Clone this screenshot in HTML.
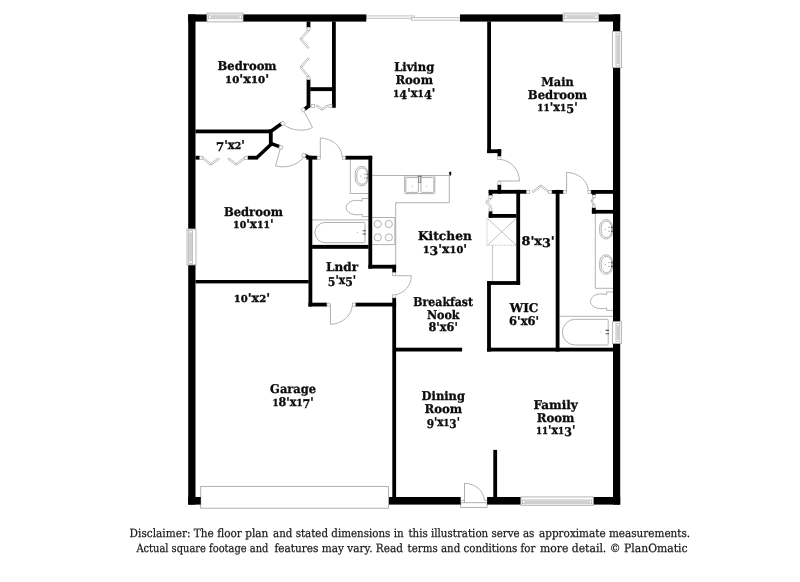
<!DOCTYPE html>
<html lang="en">
<head>
<meta charset="utf-8">
<title>Floor plan</title>
<style>
html,body{margin:0;padding:0;background:#fff;}
body{width:800px;height:582px;overflow:hidden;}
svg{display:block;will-change:transform;text-rendering:geometricPrecision;}
.walls{fill:#000;}
.thin{fill:none;stroke:#a4a4a4;stroke-width:0.85;}
.thin .j{fill:#fff;stroke:#a8a8a8;stroke-width:0.7;}
.thin .bf{fill:#fff;stroke:#989898;stroke-width:0.65;}
.thin .w{fill:#fff;stroke:#a8a8a8;stroke-width:0.9;}
.thin .n{fill:none;}
.thin .sl{fill:#f6f6f6;stroke:#b2b2b2;stroke-width:0.7;}
.thin .lt{stroke:#b4b4b4;stroke-width:0.8;}
.thin .dk{stroke:#555;stroke-width:1.1;}
.thin .dk2{stroke:#777;stroke-width:0.8;}
.thin .dot{fill:#999;stroke:none;}
.thin .dash{stroke:#aaa;stroke-dasharray:1 1.2;}
.wins .w{fill:#fff;stroke:#b0b0b0;stroke-width:0.9;}
.wins .s{fill:#fff;stroke:#a6a6a6;stroke-width:0.7;}
.wins .g{fill:#d0d0d0;stroke:none;}
.lab text{font-family:"DejaVu Serif","Liberation Serif",serif;font-weight:bold;font-size:12px;fill:#0c0c0c;stroke:#0c0c0c;stroke-width:0.3px;text-anchor:middle;}
.lab .o{font-size:9.5px;stroke:#0c0c0c;stroke-width:0.35px;}
.disc text{font-family:"DejaVu Serif","Liberation Serif",serif;font-size:11.4px;fill:#1a1a1a;stroke:#1a1a1a;stroke-width:0.25px;}
</style>
</head>
<body>
<svg width="800" height="582" viewBox="0 0 800 582">
<rect width="800" height="582" fill="#fff"/>
<g class="thin">
<rect class="sl" x="366.6" y="15.9" width="47.8" height="2.6"/>
<rect class="sl" x="411.6" y="17.5" width="48.6" height="2.7"/>
<rect class="w" x="200.7" y="486.4" width="187.8" height="21.8"/>
<polygon class="bf" points="307.9,29.7 300.2,38.6 301.4,39.6 309.1,30.7"/>
<polygon class="bf" points="300.2,39.6 307.9,48.5 309.1,47.5 301.4,38.6"/>
<polygon class="bf" points="307.9,57.8 300.2,66.8 301.4,67.8 309.1,58.8"/>
<polygon class="bf" points="300.2,67.8 307.9,77.3 309.1,76.3 301.4,66.8"/>
<polygon class="bf" points="316.0,106.3 321.7,110.2 322.7,108.8 317.0,104.9"/>
<polygon class="bf" points="322.7,110.1 328.1,106.2 327.1,105.0 321.7,108.9"/>
<polygon class="bf" points="202.3,158.5 210.2,165.1 211.2,163.9 203.3,157.3"/>
<polygon class="bf" points="211.2,165.1 219.4,159.2 218.4,158.0 210.2,163.9"/>
<polygon class="bf" points="227.8,159.2 235.9,165.1 236.9,163.9 228.8,158.0"/>
<polygon class="bf" points="236.9,165.1 245.3,158.5 244.3,157.3 235.9,163.9"/>
<polygon class="bf" points="490.0,197.8 486.0,201.5 487.0,202.7 491.0,199.0"/>
<polygon class="bf" points="485.9,202.7 490.0,206.8 491.2,205.6 487.1,201.5"/>
<polygon class="bf" points="533.2,192.6 541.4,186.3 540.4,185.1 532.2,191.4"/>
<polygon class="bf" points="540.4,186.3 548.5,192.6 549.5,191.4 541.4,185.1"/>
<polygon class="bf" points="593.3,197.3 591.0,200.6 592.0,201.2 594.3,197.9"/>
<polygon class="bf" points="591.0,201.2 593.4,204.9 594.4,204.3 592.0,200.6"/>
<path d="M303.6 110.6L312.5 127.4C307 131.5 291 131.5 283.4 124.2"/>
<path d="M280.4 148.4L275.5 165.8C284 168.6 298 166 304 156.4"/>
<path d="M320.3 157.8V137.9C332 138.6 341.4 146 342.2 156.4"/>
<path d="M497.8 181H519.4C519.6 170.6 511.6 160.4 500.4 159.4"/>
<path d="M566.6 191.9V172.3C578 172.8 587.4 180 588.4 190.6"/>
<path d="M393.6 275.7H411.4C411.4 285 404 293.6 395.2 294.8"/>
<path d="M330.5 304.6V324.3C342 324 351.4 316 352.2 306"/>
<rect class="w" x="460.7" y="502.7" width="26.4" height="4.7"/>
<path d="M461.5 500.4H464.5 M484.4 500.4H487"/>
<path d="M464.5 502.7V483.2C475.4 483.6 483.6 490.6 484.4 500.4"/>
<path d="M350.3 159.5V193.5H368.5"/>
<rect class="n" x="355.2" y="166.3" width="12.8" height="19.6" rx="6.4" ry="7.2"/>
<rect class="n" x="356.8" y="167.9" width="10.3" height="16.4" rx="5.1" ry="6.2"/>
<path d="M366.6 174.2H368.4 M366.6 178.0H368.4" class="dk"/>
<path d="M364.0 174.2H365.4 M364.0 178.0H365.4" class="dk2"/>
<circle class="dot" cx="360.8" cy="176.0" r="0.6"/>
<path d="M368.5 198.5H362.2V201.0C352 198.6 346.2 203 346.2 207.6C346.2 212.2 352 216.4 362.2 214.2V216.6H368.5"/>
<path d="M312.2 219.9H368.5"/>
<path d="M325 222.5H364Q365 222.5 365 223.5V241.7Q365 242.7 364 242.7H325A10.1 10.1 0 0 1 325 222.5Z"/>
<path d="M362.6 230.8H366 M362.6 234.0H366" class="dk"/>
<circle class="dot" cx="357.4" cy="232.4" r="0.5"/>
<path d="M372.1 175.5H449.3 M449.3 172.6V202.7H395.7V264.9"/>
<rect class="n" x="404.6" y="175.8" width="30.2" height="17.8" rx="1"/>
<rect class="n" x="405.9" y="177.6" width="12.5" height="14.8" rx="1"/>
<rect class="n" x="421.0" y="177.6" width="12.8" height="14.8" rx="1"/>
<path d="M418.7 176H420.7V182.5H418.7Z M417.4 176.6H422" class="dk2"/>
<circle class="dot" cx="412.4" cy="186.3" r="0.5"/>
<circle class="dot" cx="426.6" cy="186.3" r="0.5"/>
<path d="M372.1 217.5H394.9V244.6H372.1"/>
<circle class="n" cx="377.8" cy="224.0" r="3.6"/>
<circle class="n" cx="377.8" cy="237.4" r="3.6"/>
<circle class="n" cx="388.8" cy="224.0" r="3.6"/>
<circle class="n" cx="388.8" cy="237.4" r="3.6"/>
<path d="M487.0 218.4V245.3H516.4" class="dash"/>
<path d="M487.6 218.6L516 245 M516 218.6L487.6 245" class="lt"/>
<path d="M492.6 245.3V281.2" class="lt"/>
<path d="M595.3 213.6V288.3H613"/>
<rect class="n" x="599.7" y="219.6" width="12.8" height="19.4" rx="6.4" ry="7.2"/>
<rect class="n" x="601.3" y="221.2" width="10.3" height="16.2" rx="5.1" ry="6.2"/>
<path d="M611.0 227.4H612.9 M611.0 231.2H612.9" class="dk"/>
<path d="M608.4 227.4H609.8 M608.4 231.2H609.8" class="dk2"/>
<circle class="dot" cx="605.3" cy="229.3" r="0.6"/>
<rect class="n" x="599.7" y="254.8" width="12.8" height="19.4" rx="6.4" ry="7.2"/>
<rect class="n" x="601.3" y="256.4" width="10.3" height="16.2" rx="5.1" ry="6.2"/>
<path d="M611.0 262.6H612.9 M611.0 266.4H612.9" class="dk"/>
<path d="M608.4 262.6H609.8 M608.4 266.4H609.8" class="dk2"/>
<circle class="dot" cx="605.3" cy="264.5" r="0.6"/>
<path d="M613 292.0H606.6V294.6C596.4 292.2 590.5 296.6 590.5 301.3C590.5 306 596.4 310.2 606.6 308.0V310.4H613"/>
<path d="M559.4 316.3H613"/>
<path d="M575.2 319.3H607.2Q608.2 319.3 608.2 320.3V344Q608.2 345 607.2 345H575.2A12.85 12.85 0 0 1 575.2 319.3Z"/>
<path d="M605.6 330.4H609 M605.6 333.8H609" class="dk"/>
<circle class="dot" cx="601" cy="332" r="0.5"/>
</g>
<g class="walls">
<rect x="188.2" y="14.4" width="7.3" height="490.2"/>
<rect x="188.2" y="14.4" width="178.1" height="7.2"/>
<rect x="460.0" y="14.4" width="160.2" height="7.2"/>
<rect x="613.0" y="14.4" width="7.2" height="490.2"/>
<rect x="188.2" y="497.0" width="12.6" height="7.6"/>
<rect x="389.0" y="497.0" width="71.7" height="7.6"/>
<rect x="487.1" y="497.0" width="33.9" height="7.6"/>
<rect x="593.0" y="497.0" width="27.2" height="7.6"/>
<rect x="332.0" y="21.5" width="3.8" height="86.3"/>
<rect x="306.6" y="21.5" width="3.8" height="6.0"/>
<rect x="306.6" y="79.5" width="3.8" height="28.2"/>
<rect x="310.2" y="87.2" width="22.0" height="3.9"/>
<polygon points="307.5,104.6 303.1,108.2 305.3,111.0 309.7,107.4"/>
<rect x="195.5" y="129.5" width="75.6" height="3.8"/>
<polygon points="271.2,133.3 283.2,124.8 281.2,121.8 269.2,130.3"/>
<rect x="268.9" y="129.5" width="3.8" height="16.2"/>
<polygon points="270.0,145.1 279.6,148.6 280.8,145.2 271.2,141.7"/>
<polygon points="270.4,142.5 255.0,156.9 257.4,159.5 272.8,145.1"/>
<rect x="247.6" y="155.8" width="10.1" height="3.8"/>
<rect x="195.5" y="155.8" width="4.4" height="3.8"/>
<rect x="308.5" y="155.8" width="3.8" height="150.7"/>
<rect x="306.4" y="155.8" width="10.9" height="3.8"/>
<polygon points="303.5,156.6 308.6,159.4 310.4,156.2 305.3,153.4"/>
<rect x="345.2" y="155.8" width="27.0" height="3.8"/>
<rect x="368.4" y="155.8" width="3.8" height="112.8"/>
<rect x="368.4" y="264.8" width="27.7" height="3.8"/>
<rect x="392.3" y="264.8" width="3.8" height="7.9"/>
<rect x="312.1" y="244.9" width="56.5" height="3.9"/>
<rect x="195.5" y="280.0" width="113.2" height="3.4"/>
<rect x="308.5" y="302.7" width="18.5" height="3.8"/>
<rect x="355.3" y="302.7" width="40.8" height="3.8"/>
<rect x="392.3" y="297.8" width="3.8" height="199.3"/>
<rect x="395.9" y="347.7" width="66.2" height="3.8"/>
<rect x="487.2" y="21.5" width="3.8" height="131.6"/>
<rect x="487.2" y="149.3" width="14.0" height="3.8"/>
<rect x="497.5" y="149.3" width="3.7" height="7.3"/>
<rect x="497.5" y="184.7" width="3.7" height="9.0"/>
<rect x="488.7" y="189.9" width="37.9" height="3.8"/>
<rect x="488.7" y="189.9" width="3.7" height="5.9"/>
<rect x="488.7" y="211.3" width="3.7" height="6.5"/>
<rect x="488.7" y="214.0" width="27.8" height="3.8"/>
<rect x="516.3" y="189.9" width="3.8" height="95.0"/>
<rect x="487.1" y="281.1" width="33.0" height="3.8"/>
<rect x="487.1" y="281.1" width="3.8" height="70.4"/>
<rect x="487.1" y="347.7" width="126.0" height="3.8"/>
<rect x="555.7" y="189.9" width="3.8" height="161.6"/>
<rect x="551.6" y="190.0" width="11.8" height="3.8"/>
<rect x="590.9" y="190.0" width="22.2" height="3.8"/>
<rect x="591.9" y="190.0" width="3.8" height="5.1"/>
<rect x="591.9" y="207.6" width="3.8" height="6.0"/>
<rect x="591.9" y="209.9" width="21.2" height="3.7"/>
<rect x="493.3" y="449.9" width="3.8" height="47.2"/>
<path d="M449 172.2l2.2 -0.6v2.8l-1.2 1.8z"/>
</g>
<g class="thin">
<rect class="j" x="307.0" y="27.3" width="3.0" height="3.0"/>
<rect class="j" x="307.0" y="76.7" width="3.0" height="3.0"/>
<rect class="j" x="311.7" y="104.5" width="3.0" height="3.0"/>
<rect class="j" x="329.0" y="104.5" width="3.0" height="3.0"/>
<rect class="j" x="199.8" y="156.3" width="3.0" height="3.0"/>
<rect class="j" x="244.7" y="156.3" width="3.0" height="3.0"/>
<rect class="j" x="489.0" y="195.5" width="3.0" height="3.0"/>
<rect class="j" x="489.0" y="207.9" width="3.0" height="3.0"/>
<rect class="j" x="526.7" y="190.4" width="3.0" height="3.0"/>
<rect class="j" x="548.8" y="190.4" width="3.0" height="3.0"/>
<rect class="j" x="592.6" y="195.0" width="2.6" height="2.6"/>
<rect class="j" x="592.6" y="205.0" width="2.6" height="2.6"/>
<rect class="j" x="301.5" y="108.1" width="3.4" height="3.4" transform="rotate(-35 303.2 109.8)"/>
<rect class="j" x="281.1" y="121.7" width="3.4" height="3.4" transform="rotate(-35 282.8 123.4)"/>
<rect class="j" x="279.1" y="145.7" width="3.4" height="3.4" transform="rotate(20 280.8 147.4)"/>
<rect class="j" x="302.2" y="153.7" width="3.4" height="3.4" transform="rotate(30 303.9 155.4)"/>
<rect class="j" x="317.2" y="156.3" width="3.0" height="3.0"/>
<rect class="j" x="342.2" y="156.3" width="3.0" height="3.0"/>
<rect class="j" x="497.8" y="156.5" width="3.0" height="3.0"/>
<rect class="j" x="497.8" y="181.7" width="3.0" height="3.0"/>
<rect class="j" x="563.3" y="190.4" width="3.0" height="3.0"/>
<rect class="j" x="587.8" y="190.4" width="3.0" height="3.0"/>
<rect class="j" x="392.6" y="272.7" width="3.0" height="3.0"/>
<rect class="j" x="392.6" y="294.8" width="3.0" height="3.0"/>
<rect class="j" x="327.0" y="303.1" width="3.0" height="3.0"/>
<rect class="j" x="352.3" y="303.1" width="3.0" height="3.0"/>
</g>
<g class="thin wins">
<rect class="w" x="207.0" y="13.1" width="36.0" height="8.8"/>
<rect class="s" x="208.6" y="15.0" width="32.8" height="3.8"/>
<rect class="g" x="210.4" y="15.4" width="29.2" height="3.0"/>
<rect class="w" x="563.0" y="13.1" width="35.6" height="8.8"/>
<rect class="s" x="564.6" y="15.0" width="32.4" height="3.8"/>
<rect class="g" x="566.4" y="15.4" width="28.8" height="3.0"/>
<rect class="w" x="520.9" y="496.9" width="72.4" height="8.4"/>
<rect class="s" x="522.5" y="500.0" width="69.2" height="3.8"/>
<rect class="g" x="524.3" y="500.4" width="65.6" height="3.0"/>
<rect class="w" x="612.4" y="31.5" width="9.2" height="36.1"/>
<rect class="s" x="616.0" y="33.1" width="3.8" height="32.9"/>
<rect class="g" x="616.4" y="34.9" width="3.0" height="29.3"/>
<rect class="w" x="612.4" y="321.7" width="9.2" height="21.7"/>
<rect class="s" x="616.0" y="323.3" width="3.8" height="18.5"/>
<rect class="g" x="616.4" y="325.1" width="3.0" height="14.9"/>
<rect class="w" x="187.0" y="229.0" width="9.0" height="35.9"/>
<rect class="s" x="188.7" y="230.6" width="3.8" height="32.7"/>
<rect class="g" x="189.1" y="232.4" width="3.0" height="29.1"/>
</g>
<g class="lab">
<text x="247.1" y="70.1" textLength="59.0" lengthAdjust="spacingAndGlyphs">Bedroom</text>
<text x="247.1" y="82.9" textLength="44.0" lengthAdjust="spacingAndGlyphs"><tspan class="o">10</tspan>'x<tspan class="o">10</tspan>'</text>
<text x="414.2" y="71.4" textLength="40.1" lengthAdjust="spacingAndGlyphs">Living</text>
<text x="414.2" y="84.0" textLength="37.6" lengthAdjust="spacingAndGlyphs">Room</text>
<text x="414.2" y="96.5" textLength="42.3" lengthAdjust="spacingAndGlyphs"><tspan class="o">1</tspan><tspan dy="2.2">4</tspan><tspan dy="-2.2">'x</tspan><tspan class="o">1</tspan><tspan dy="2.2">4</tspan><tspan dy="-2.2">'</tspan></text>
<text x="557.5" y="85.7" textLength="32.5" lengthAdjust="spacingAndGlyphs">Main</text>
<text x="557.5" y="98.8" textLength="59.4" lengthAdjust="spacingAndGlyphs">Bedroom</text>
<text x="557.5" y="111.2" textLength="40.4" lengthAdjust="spacingAndGlyphs"><tspan class="o">11</tspan>'x<tspan class="o">1</tspan><tspan dy="2.2">5</tspan><tspan dy="-2.2">'</tspan></text>
<text x="230.4" y="148.8" textLength="28.8" lengthAdjust="spacingAndGlyphs"><tspan dy="2.2">7</tspan><tspan dy="-2.2">'x</tspan><tspan class="o">2</tspan>'</text>
<text x="253.4" y="215.7" textLength="59.0" lengthAdjust="spacingAndGlyphs">Bedroom</text>
<text x="253.4" y="227.9" textLength="40.6" lengthAdjust="spacingAndGlyphs"><tspan class="o">10</tspan>'x<tspan class="o">11</tspan>'</text>
<text x="251.9" y="302.3" textLength="36.3" lengthAdjust="spacingAndGlyphs"><tspan class="o">10</tspan>'x<tspan class="o">2</tspan>'</text>
<text x="342.0" y="271.1" textLength="32.0" lengthAdjust="spacingAndGlyphs">Lndr</text>
<text x="342.0" y="283.6" textLength="28.3" lengthAdjust="spacingAndGlyphs"><tspan dy="2.2">5</tspan><tspan dy="-2.2">'x</tspan><tspan dy="2.2">5</tspan><tspan dy="-2.2">'</tspan></text>
<text x="293.1" y="393.3" textLength="46.0" lengthAdjust="spacingAndGlyphs">Garage</text>
<text x="293.1" y="405.6" textLength="41.3" lengthAdjust="spacingAndGlyphs"><tspan class="o">1</tspan>8'x<tspan class="o">1</tspan><tspan dy="2.2">7</tspan><tspan dy="-2.2">'</tspan></text>
<text x="444.9" y="239.9" textLength="54.0" lengthAdjust="spacingAndGlyphs">Kitchen</text>
<text x="444.9" y="252.5" textLength="44.4" lengthAdjust="spacingAndGlyphs"><tspan class="o">1</tspan><tspan dy="2.2">3</tspan><tspan dy="-2.2">'x</tspan><tspan class="o">10</tspan>'</text>
<text x="443.2" y="306.1" textLength="59.7" lengthAdjust="spacingAndGlyphs">Breakfast</text>
<text x="443.2" y="318.8" textLength="32.6" lengthAdjust="spacingAndGlyphs">Nook</text>
<text x="443.2" y="331.2" textLength="29.4" lengthAdjust="spacingAndGlyphs">8'x6'</text>
<text x="524.0" y="312.3" textLength="28.6" lengthAdjust="spacingAndGlyphs">WIC</text>
<text x="524.1" y="324.9" textLength="30.0" lengthAdjust="spacingAndGlyphs">6'x6'</text>
<text x="538.2" y="245.1" textLength="33.2" lengthAdjust="spacingAndGlyphs">8'x<tspan dy="2.2">3</tspan><tspan dy="-2.2">'</tspan></text>
<text x="443.3" y="400.4" textLength="43.4" lengthAdjust="spacingAndGlyphs">Dining</text>
<text x="443.3" y="413.2" textLength="37.7" lengthAdjust="spacingAndGlyphs">Room</text>
<text x="443.3" y="425.5" textLength="33.3" lengthAdjust="spacingAndGlyphs"><tspan dy="2.2">9</tspan><tspan dy="-2.2">'x</tspan><tspan class="o">1</tspan><tspan dy="2.2">3</tspan><tspan dy="-2.2">'</tspan></text>
<text x="555.6" y="408.9" textLength="44.4" lengthAdjust="spacingAndGlyphs">Family</text>
<text x="555.6" y="421.8" textLength="37.7" lengthAdjust="spacingAndGlyphs">Room</text>
<text x="555.6" y="434.1" textLength="39.4" lengthAdjust="spacingAndGlyphs"><tspan class="o">11</tspan>'x<tspan class="o">1</tspan><tspan dy="2.2">3</tspan><tspan dy="-2.2">'</tspan></text>
</g>
<g class="disc">
<text y="536.9"><tspan x="129.6" textLength="138.8" lengthAdjust="spacingAndGlyphs">Disclaimer: The floor plan</tspan> <tspan x="273.0" textLength="130.6" lengthAdjust="spacingAndGlyphs">and stated dimensions in</tspan> <tspan x="408.4" textLength="126.0" lengthAdjust="spacingAndGlyphs">this illustration serve as</tspan> <tspan x="539.0" textLength="151.2" lengthAdjust="spacingAndGlyphs">approximate measurements.</tspan></text>
<text y="552.0"><tspan x="136.4" textLength="132.0" lengthAdjust="spacingAndGlyphs">Actual square footage and</tspan> <tspan x="274.4" textLength="128.6" lengthAdjust="spacingAndGlyphs">features may vary. Read</tspan> <tspan x="407.6" textLength="127.8" lengthAdjust="spacingAndGlyphs">terms and conditions for</tspan> <tspan x="540.0" textLength="147.6" lengthAdjust="spacingAndGlyphs">more detail. © PlanOmatic</tspan></text>
</g>
</svg>
</body>
</html>
